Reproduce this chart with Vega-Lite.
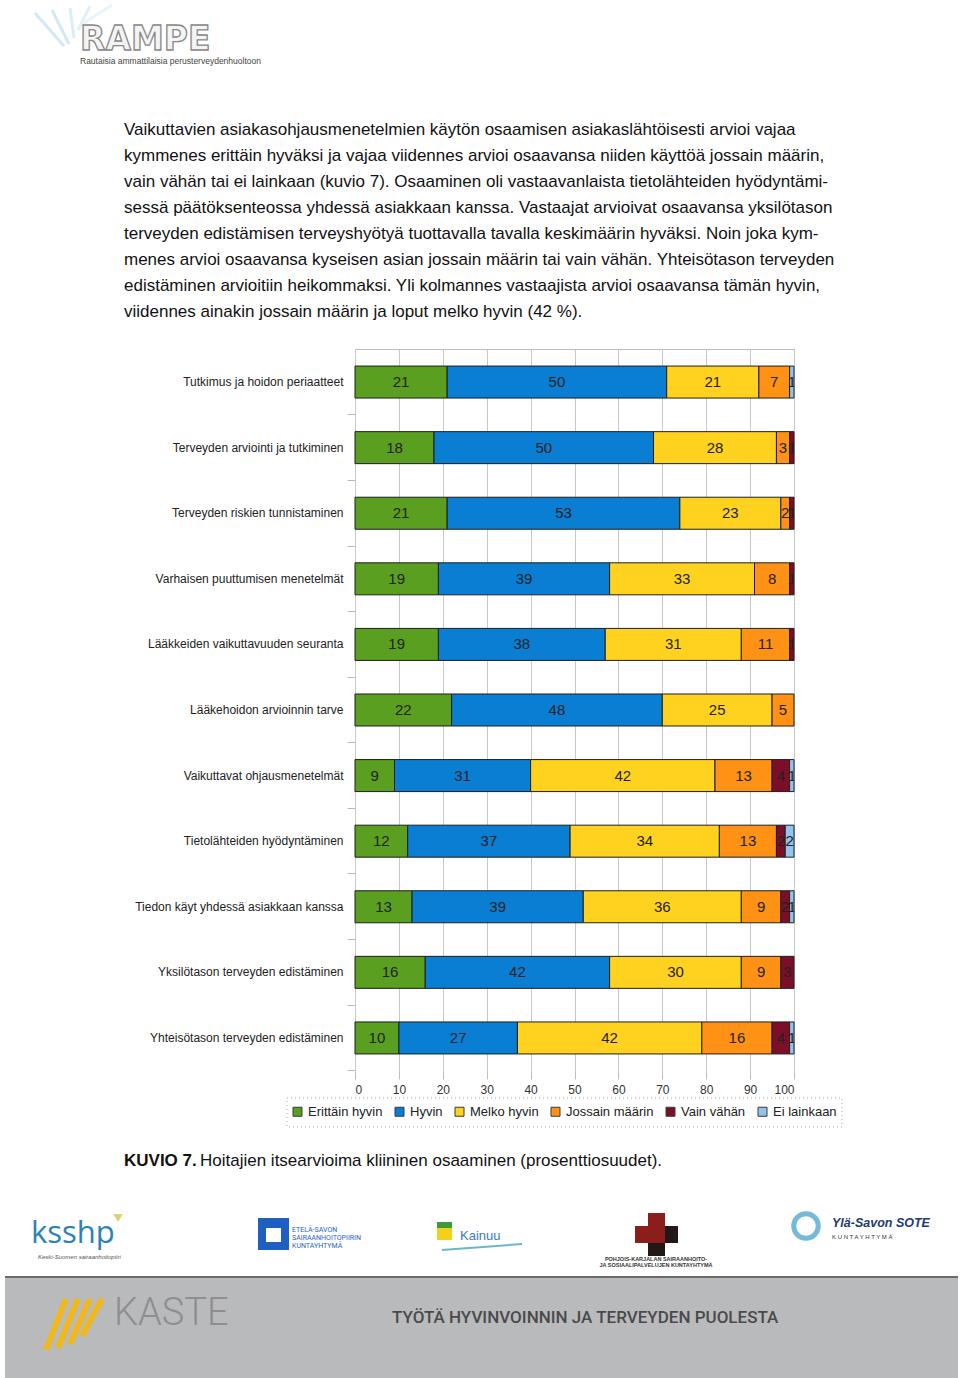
{
  "$schema": "https://vega.github.io/schema/vega-lite/v6.json",
  "width": 439,
  "height": 722,
  "autosize": {"type": "none"},
  "padding": {"left": 355, "top": 349, "right": 166, "bottom": 307},
  "background": "white",
  "config": {"view": {"stroke": null}, "font": "Liberation Sans"},
  "resolve": {"scale": {"x": "independent", "y": "independent", "color": "independent"}},
  "layer": [
    {
      "data": {"values": [
        {"line": 1, "text": "Vaikuttavien asiakasohjausmenetelmien käytön osaamisen asiakaslähtöisesti arvioi vajaa"},
        {"line": 2, "text": "kymmenes erittäin hyväksi ja vajaa viidennes arvioi osaavansa niiden käyttöä jossain määrin,"},
        {"line": 3, "text": "vain vähän tai ei lainkaan (kuvio 7). Osaaminen oli vastaavanlaista tietolähteiden hyödyntämi-"},
        {"line": 4, "text": "sessä päätöksenteossa yhdessä asiakkaan kanssa. Vastaajat arvioivat osaavansa yksilötason"},
        {"line": 5, "text": "terveyden edistämisen terveyshyötyä tuottavalla tavalla keskimäärin hyväksi. Noin joka kym-"},
        {"line": 6, "text": "menes arvioi osaavansa kyseisen asian jossain määrin tai vain vähän. Yhteisötason terveyden"},
        {"line": 7, "text": "edistäminen arvioitiin heikommaksi. Yli kolmannes vastaajista arvioi osaavansa tämän hyvin,"},
        {"line": 8, "text": "viidennes ainakin jossain määrin ja loput melko hyvin (42 %)."}
      ]},
      "mark": {"type": "text", "align": "left", "baseline": "middle", "fontSize": 17, "font": "Liberation Sans", "color": "#111"},
      "encoding": {
        "x": {"datum": 124, "type": "quantitative", "scale": {"domain": [0, 960], "range": [-355, 605], "nice": false, "zero": false}, "axis": null},
        "y": {"field": "line", "type": "ordinal", "scale": {"type": "point", "range": [-219, -37], "padding": 0}, "axis": null},
        "text": {"field": "text"}
      }
    },
    {
      "layer": [
        {"data": {"values": [{}]}, "mark": {"type": "rect", "color": "#b9babc"},
         "encoding": {"x": {"datum": 5, "type": "quantitative", "scale": {"domain": [0, 960], "range": [-355, 605], "nice": false, "zero": false}, "axis": null}, "x2": {"datum": 958},
                      "y": {"datum": 1277, "type": "quantitative", "scale": {"domain": [0, 1378], "range": [-349, 1029], "nice": false, "zero": false}, "axis": null}, "y2": {"datum": 1378}}},
        {"data": {"values": [{}]}, "mark": {"type": "rule", "color": "#6a6a6a", "strokeWidth": 2},
         "encoding": {"x": {"datum": 5, "type": "quantitative"}, "x2": {"datum": 958}, "y": {"datum": 1277, "type": "quantitative"}, "y2": {"datum": 1277}}},
        {"data": {"values": [{}]}, "mark": {"type": "rect", "fill": null, "stroke": "#aaaaaa", "strokeDash": [1, 3], "strokeWidth": 1},
         "encoding": {"x": {"datum": 287, "type": "quantitative"}, "x2": {"datum": 842}, "y": {"datum": 1098, "type": "quantitative"}, "y2": {"datum": 1127}}},

        {"data": {"values": [{}]}, "mark": {"type": "rule", "color": "#d2e8f4", "strokeWidth": 3},
         "encoding": {"x": {"datum": 35, "type": "quantitative"}, "x2": {"datum": 64}, "y": {"datum": 13, "type": "quantitative"}, "y2": {"datum": 46}}},
        {"data": {"values": [{}]}, "mark": {"type": "rule", "color": "#d2e8f4", "strokeWidth": 3},
         "encoding": {"x": {"datum": 52, "type": "quantitative"}, "x2": {"datum": 69}, "y": {"datum": 10, "type": "quantitative"}, "y2": {"datum": 44}}},
        {"data": {"values": [{}]}, "mark": {"type": "rule", "color": "#dbedf7", "strokeWidth": 3},
         "encoding": {"x": {"datum": 70, "type": "quantitative"}, "x2": {"datum": 74}, "y": {"datum": 8, "type": "quantitative"}, "y2": {"datum": 38}}},
        {"data": {"values": [{}]}, "mark": {"type": "rule", "color": "#e2f0f8", "strokeWidth": 3},
         "encoding": {"x": {"datum": 90, "type": "quantitative"}, "x2": {"datum": 78}, "y": {"datum": 6, "type": "quantitative"}, "y2": {"datum": 30}}},
        {"data": {"values": [{}]}, "mark": {"type": "rule", "color": "#e8f3fa", "strokeWidth": 3},
         "encoding": {"x": {"datum": 112, "type": "quantitative"}, "x2": {"datum": 82}, "y": {"datum": 5, "type": "quantitative"}, "y2": {"datum": 24}}},

        {"data": {"values": [{"t": "RAMPE"}]}, "mark": {"type": "text", "align": "left", "baseline": "alphabetic", "fontSize": 33, "font": "DejaVu Sans", "fontWeight": "bold", "fill": "#f4f4f4", "stroke": "#888888", "strokeWidth": 1.3},
         "encoding": {"x": {"datum": 80, "type": "quantitative"}, "y": {"datum": 50, "type": "quantitative"}, "text": {"field": "t"}}},
        {"data": {"values": [{"t": "Rautaisia ammattilaisia perusterveydenhuoltoon"}]}, "mark": {"type": "text", "align": "left", "baseline": "middle", "fontSize": 8.5, "color": "#444"},
         "encoding": {"x": {"datum": 80, "type": "quantitative"}, "y": {"datum": 61, "type": "quantitative"}, "text": {"field": "t"}}},

        {"data": {"values": [{"t": "KUVIO 7."}]}, "mark": {"type": "text", "align": "left", "baseline": "middle", "fontSize": 17, "fontWeight": "bold", "color": "#111"},
         "encoding": {"x": {"datum": 124, "type": "quantitative"}, "y": {"datum": 1161, "type": "quantitative"}, "text": {"field": "t"}}},
        {"data": {"values": [{"t": "Hoitajien itsearvioima kliininen osaaminen (prosenttiosuudet)."}]}, "mark": {"type": "text", "align": "left", "baseline": "middle", "fontSize": 17, "color": "#111"},
         "encoding": {"x": {"datum": 200, "type": "quantitative"}, "y": {"datum": 1161, "type": "quantitative"}, "text": {"field": "t"}}},

        {"data": {"values": [{"t": "ksshp"}]}, "mark": {"type": "text", "align": "left", "baseline": "middle", "fontSize": 31, "font": "Open Sans", "color": "#2b83b4"},
         "encoding": {"x": {"datum": 31, "type": "quantitative"}, "y": {"datum": 1234, "type": "quantitative"}, "text": {"field": "t"}}},
        {"data": {"values": [{}]}, "mark": {"type": "point", "shape": "triangle-down", "filled": true, "color": "#c9c238", "size": 90},
         "encoding": {"x": {"datum": 118, "type": "quantitative"}, "y": {"datum": 1218, "type": "quantitative"}}},
        {"data": {"values": [{"t": "Keski-Suomen sairaanhoitopiiri"}]}, "mark": {"type": "text", "align": "left", "baseline": "middle", "fontSize": 6, "fontStyle": "italic", "color": "#555"},
         "encoding": {"x": {"datum": 38, "type": "quantitative"}, "y": {"datum": 1257, "type": "quantitative"}, "text": {"field": "t"}}},

        {"data": {"values": [{}]}, "mark": {"type": "rect", "color": "#1f5fbf"},
         "encoding": {"x": {"datum": 258, "type": "quantitative"}, "x2": {"datum": 289}, "y": {"datum": 1218, "type": "quantitative"}, "y2": {"datum": 1250}}},
        {"data": {"values": [{}]}, "mark": {"type": "rect", "color": "#ffffff"},
         "encoding": {"x": {"datum": 266, "type": "quantitative"}, "x2": {"datum": 281}, "y": {"datum": 1228, "type": "quantitative"}, "y2": {"datum": 1242}}},
        {"data": {"values": [{"t": "ETELÄ-SAVON"}]}, "mark": {"type": "text", "align": "left", "baseline": "middle", "fontSize": 7, "font": "Roboto", "color": "#1f5fbf"},
         "encoding": {"x": {"datum": 292, "type": "quantitative"}, "y": {"datum": 1230, "type": "quantitative"}, "text": {"field": "t"}}},
        {"data": {"values": [{"t": "SAIRAANHOITOPIIRIN"}]}, "mark": {"type": "text", "align": "left", "baseline": "middle", "fontSize": 7, "font": "Roboto", "color": "#1f5fbf"},
         "encoding": {"x": {"datum": 292, "type": "quantitative"}, "y": {"datum": 1238, "type": "quantitative"}, "text": {"field": "t"}}},
        {"data": {"values": [{"t": "KUNTAYHTYMÄ"}]}, "mark": {"type": "text", "align": "left", "baseline": "middle", "fontSize": 7, "font": "Roboto", "color": "#1f5fbf"},
         "encoding": {"x": {"datum": 292, "type": "quantitative"}, "y": {"datum": 1246, "type": "quantitative"}, "text": {"field": "t"}}},

        {"data": {"values": [{}]}, "mark": {"type": "rect", "color": "#f3d11b"},
         "encoding": {"x": {"datum": 437, "type": "quantitative"}, "x2": {"datum": 452}, "y": {"datum": 1222, "type": "quantitative"}, "y2": {"datum": 1240}}},
        {"data": {"values": [{}]}, "mark": {"type": "rect", "color": "#3e9b3a"},
         "encoding": {"x": {"datum": 437, "type": "quantitative"}, "x2": {"datum": 452}, "y": {"datum": 1222, "type": "quantitative"}, "y2": {"datum": 1228}}},
        {"data": {"values": [{}]}, "mark": {"type": "rule", "color": "#6cb6c9", "strokeWidth": 2},
         "encoding": {"x": {"datum": 442, "type": "quantitative"}, "x2": {"datum": 522}, "y": {"datum": 1250, "type": "quantitative"}, "y2": {"datum": 1244}}},
        {"data": {"values": [{"t": "Kainuu"}]}, "mark": {"type": "text", "align": "left", "baseline": "middle", "fontSize": 13, "color": "#3a78c0"},
         "encoding": {"x": {"datum": 460, "type": "quantitative"}, "y": {"datum": 1236, "type": "quantitative"}, "text": {"field": "t"}}},

        {"data": {"values": [{}]}, "mark": {"type": "rect", "color": "#8b1d1d"},
         "encoding": {"x": {"datum": 648, "type": "quantitative"}, "x2": {"datum": 665}, "y": {"datum": 1213, "type": "quantitative"}, "y2": {"datum": 1256}}},
        {"data": {"values": [{}]}, "mark": {"type": "rect", "color": "#8b1d1d"},
         "encoding": {"x": {"datum": 635, "type": "quantitative"}, "x2": {"datum": 678}, "y": {"datum": 1226, "type": "quantitative"}, "y2": {"datum": 1243}}},
        {"data": {"values": [{}]}, "mark": {"type": "rect", "color": "#231815"},
         "encoding": {"x": {"datum": 648, "type": "quantitative"}, "x2": {"datum": 665}, "y": {"datum": 1243, "type": "quantitative"}, "y2": {"datum": 1256}}},
        {"data": {"values": [{}]}, "mark": {"type": "rect", "color": "#231815"},
         "encoding": {"x": {"datum": 665, "type": "quantitative"}, "x2": {"datum": 678}, "y": {"datum": 1226, "type": "quantitative"}, "y2": {"datum": 1243}}},
        {"data": {"values": [{"t": "POHJOIS-KARJALAN SAIRAANHOITO-"}]}, "mark": {"type": "text", "align": "center", "baseline": "middle", "fontSize": 5.5, "fontWeight": "bold", "color": "#333"},
         "encoding": {"x": {"datum": 656, "type": "quantitative"}, "y": {"datum": 1259, "type": "quantitative"}, "text": {"field": "t"}}},
        {"data": {"values": [{"t": "JA SOSIAALIPALVELUJEN KUNTAYHTYMÄ"}]}, "mark": {"type": "text", "align": "center", "baseline": "middle", "fontSize": 5.5, "fontWeight": "bold", "color": "#333"},
         "encoding": {"x": {"datum": 656, "type": "quantitative"}, "y": {"datum": 1265, "type": "quantitative"}, "text": {"field": "t"}}},

        {"data": {"values": [{}]}, "mark": {"type": "point", "shape": "circle", "filled": false, "stroke": "#3a9fc8", "strokeWidth": 5, "size": 600},
         "encoding": {"x": {"datum": 806, "type": "quantitative"}, "y": {"datum": 1226, "type": "quantitative"}}},
        {"data": {"values": [{"t": "Ylä-Savon SOTE"}]}, "mark": {"type": "text", "align": "left", "baseline": "middle", "fontSize": 12.5, "fontWeight": "bold", "fontStyle": "italic", "color": "#1d3b6f"},
         "encoding": {"x": {"datum": 832, "type": "quantitative"}, "y": {"datum": 1223, "type": "quantitative"}, "text": {"field": "t"}}},
        {"data": {"values": [{"t": "K U N T A Y H T Y M Ä"}]}, "mark": {"type": "text", "align": "left", "baseline": "middle", "fontSize": 6, "color": "#333"},
         "encoding": {"x": {"datum": 832, "type": "quantitative"}, "y": {"datum": 1237, "type": "quantitative"}, "text": {"field": "t"}}},

        {"data": {"values": [{}]}, "mark": {"type": "rule", "color": "#f0b81c", "strokeWidth": 6},
         "encoding": {"x": {"datum": 66, "type": "quantitative"}, "x2": {"datum": 46}, "y": {"datum": 1299, "type": "quantitative"}, "y2": {"datum": 1350}}},
        {"data": {"values": [{}]}, "mark": {"type": "rule", "color": "#f0b81c", "strokeWidth": 6},
         "encoding": {"x": {"datum": 78, "type": "quantitative"}, "x2": {"datum": 58}, "y": {"datum": 1299, "type": "quantitative"}, "y2": {"datum": 1348}}},
        {"data": {"values": [{}]}, "mark": {"type": "rule", "color": "#f0b81c", "strokeWidth": 6},
         "encoding": {"x": {"datum": 90, "type": "quantitative"}, "x2": {"datum": 70}, "y": {"datum": 1299, "type": "quantitative"}, "y2": {"datum": 1344}}},
        {"data": {"values": [{}]}, "mark": {"type": "rule", "color": "#f0b81c", "strokeWidth": 6},
         "encoding": {"x": {"datum": 102, "type": "quantitative"}, "x2": {"datum": 82}, "y": {"datum": 1299, "type": "quantitative"}, "y2": {"datum": 1336}}},
        {"data": {"values": [{"t": "KASTE"}]}, "mark": {"type": "text", "align": "left", "baseline": "middle", "fontSize": 38, "font": "Roboto", "fontWeight": 300, "color": "#8e8e90"},
         "encoding": {"x": {"datum": 114, "type": "quantitative"}, "y": {"datum": 1314, "type": "quantitative"}, "text": {"field": "t"}}},
        {"data": {"values": [{"t": "TYÖTÄ HYVINVOINNIN JA TERVEYDEN PUOLESTA"}]}, "mark": {"type": "text", "align": "left", "baseline": "middle", "fontSize": 17, "font": "Roboto", "fontWeight": 500, "color": "#4a4a4c"},
         "encoding": {"x": {"datum": 392, "type": "quantitative"}, "y": {"datum": 1318, "type": "quantitative"}, "text": {"field": "t"}}}
      ]
    },
    {
      "data": {"values": [
        {"item": "Tutkimus ja hoidon periaatteet", "level": "Erittäin hyvin", "rank": 1, "pct": 21},
        {"item": "Tutkimus ja hoidon periaatteet", "level": "Hyvin", "rank": 2, "pct": 50},
        {"item": "Tutkimus ja hoidon periaatteet", "level": "Melko hyvin", "rank": 3, "pct": 21},
        {"item": "Tutkimus ja hoidon periaatteet", "level": "Jossain määrin", "rank": 4, "pct": 7},
        {"item": "Tutkimus ja hoidon periaatteet", "level": "Ei lainkaan", "rank": 6, "pct": 1},
        {"item": "Terveyden arviointi ja tutkiminen", "level": "Erittäin hyvin", "rank": 1, "pct": 18},
        {"item": "Terveyden arviointi ja tutkiminen", "level": "Hyvin", "rank": 2, "pct": 50},
        {"item": "Terveyden arviointi ja tutkiminen", "level": "Melko hyvin", "rank": 3, "pct": 28},
        {"item": "Terveyden arviointi ja tutkiminen", "level": "Jossain määrin", "rank": 4, "pct": 3},
        {"item": "Terveyden arviointi ja tutkiminen", "level": "Vain vähän", "rank": 5, "pct": 1},
        {"item": "Terveyden riskien tunnistaminen", "level": "Erittäin hyvin", "rank": 1, "pct": 21},
        {"item": "Terveyden riskien tunnistaminen", "level": "Hyvin", "rank": 2, "pct": 53},
        {"item": "Terveyden riskien tunnistaminen", "level": "Melko hyvin", "rank": 3, "pct": 23},
        {"item": "Terveyden riskien tunnistaminen", "level": "Jossain määrin", "rank": 4, "pct": 2},
        {"item": "Terveyden riskien tunnistaminen", "level": "Vain vähän", "rank": 5, "pct": 1},
        {"item": "Varhaisen puuttumisen menetelmät", "level": "Erittäin hyvin", "rank": 1, "pct": 19},
        {"item": "Varhaisen puuttumisen menetelmät", "level": "Hyvin", "rank": 2, "pct": 39},
        {"item": "Varhaisen puuttumisen menetelmät", "level": "Melko hyvin", "rank": 3, "pct": 33},
        {"item": "Varhaisen puuttumisen menetelmät", "level": "Jossain määrin", "rank": 4, "pct": 8},
        {"item": "Varhaisen puuttumisen menetelmät", "level": "Vain vähän", "rank": 5, "pct": 1},
        {"item": "Lääkkeiden vaikuttavuuden seuranta", "level": "Erittäin hyvin", "rank": 1, "pct": 19},
        {"item": "Lääkkeiden vaikuttavuuden seuranta", "level": "Hyvin", "rank": 2, "pct": 38},
        {"item": "Lääkkeiden vaikuttavuuden seuranta", "level": "Melko hyvin", "rank": 3, "pct": 31},
        {"item": "Lääkkeiden vaikuttavuuden seuranta", "level": "Jossain määrin", "rank": 4, "pct": 11},
        {"item": "Lääkkeiden vaikuttavuuden seuranta", "level": "Vain vähän", "rank": 5, "pct": 1},
        {"item": "Lääkehoidon arvioinnin tarve", "level": "Erittäin hyvin", "rank": 1, "pct": 22},
        {"item": "Lääkehoidon arvioinnin tarve", "level": "Hyvin", "rank": 2, "pct": 48},
        {"item": "Lääkehoidon arvioinnin tarve", "level": "Melko hyvin", "rank": 3, "pct": 25},
        {"item": "Lääkehoidon arvioinnin tarve", "level": "Jossain määrin", "rank": 4, "pct": 5},
        {"item": "Vaikuttavat ohjausmenetelmät", "level": "Erittäin hyvin", "rank": 1, "pct": 9},
        {"item": "Vaikuttavat ohjausmenetelmät", "level": "Hyvin", "rank": 2, "pct": 31},
        {"item": "Vaikuttavat ohjausmenetelmät", "level": "Melko hyvin", "rank": 3, "pct": 42},
        {"item": "Vaikuttavat ohjausmenetelmät", "level": "Jossain määrin", "rank": 4, "pct": 13},
        {"item": "Vaikuttavat ohjausmenetelmät", "level": "Vain vähän", "rank": 5, "pct": 4},
        {"item": "Vaikuttavat ohjausmenetelmät", "level": "Ei lainkaan", "rank": 6, "pct": 1},
        {"item": "Tietolähteiden hyödyntäminen", "level": "Erittäin hyvin", "rank": 1, "pct": 12},
        {"item": "Tietolähteiden hyödyntäminen", "level": "Hyvin", "rank": 2, "pct": 37},
        {"item": "Tietolähteiden hyödyntäminen", "level": "Melko hyvin", "rank": 3, "pct": 34},
        {"item": "Tietolähteiden hyödyntäminen", "level": "Jossain määrin", "rank": 4, "pct": 13},
        {"item": "Tietolähteiden hyödyntäminen", "level": "Vain vähän", "rank": 5, "pct": 2},
        {"item": "Tietolähteiden hyödyntäminen", "level": "Ei lainkaan", "rank": 6, "pct": 2},
        {"item": "Tiedon käyt yhdessä asiakkaan kanssa", "level": "Erittäin hyvin", "rank": 1, "pct": 13},
        {"item": "Tiedon käyt yhdessä asiakkaan kanssa", "level": "Hyvin", "rank": 2, "pct": 39},
        {"item": "Tiedon käyt yhdessä asiakkaan kanssa", "level": "Melko hyvin", "rank": 3, "pct": 36},
        {"item": "Tiedon käyt yhdessä asiakkaan kanssa", "level": "Jossain määrin", "rank": 4, "pct": 9},
        {"item": "Tiedon käyt yhdessä asiakkaan kanssa", "level": "Vain vähän", "rank": 5, "pct": 2},
        {"item": "Tiedon käyt yhdessä asiakkaan kanssa", "level": "Ei lainkaan", "rank": 6, "pct": 1},
        {"item": "Yksilötason terveyden edistäminen", "level": "Erittäin hyvin", "rank": 1, "pct": 16},
        {"item": "Yksilötason terveyden edistäminen", "level": "Hyvin", "rank": 2, "pct": 42},
        {"item": "Yksilötason terveyden edistäminen", "level": "Melko hyvin", "rank": 3, "pct": 30},
        {"item": "Yksilötason terveyden edistäminen", "level": "Jossain määrin", "rank": 4, "pct": 9},
        {"item": "Yksilötason terveyden edistäminen", "level": "Vain vähän", "rank": 5, "pct": 3},
        {"item": "Yhteisötason terveyden edistäminen", "level": "Erittäin hyvin", "rank": 1, "pct": 10},
        {"item": "Yhteisötason terveyden edistäminen", "level": "Hyvin", "rank": 2, "pct": 27},
        {"item": "Yhteisötason terveyden edistäminen", "level": "Melko hyvin", "rank": 3, "pct": 42},
        {"item": "Yhteisötason terveyden edistäminen", "level": "Jossain määrin", "rank": 4, "pct": 16},
        {"item": "Yhteisötason terveyden edistäminen", "level": "Vain vähän", "rank": 5, "pct": 4},
        {"item": "Yhteisötason terveyden edistäminen", "level": "Ei lainkaan", "rank": 6, "pct": 1}
      ]},
      "resolve": {"axis": {"x": "independent", "y": "independent"}},
      "layer": [
        {
          "mark": {"type": "bar", "stroke": "#1e1e1e", "strokeWidth": 1},
          "encoding": {
            "x": {"field": "pct", "type": "quantitative", "stack": "zero",
                  "scale": {"domain": [0, 100], "nice": false},
                  "axis": {"orient": "bottom", "values": [0, 10, 20, 30, 40, 50, 60, 70, 80, 90, 100], "title": null, "domain": false,
                           "tickSize": 8, "tickColor": "#bdbdbd", "grid": true, "gridColor": "#c8c8c8",
                           "labelFontSize": 12, "labelColor": "#333", "labelPadding": 5, "labelFont": "Liberation Sans"}},
            "y": {"field": "item", "type": "nominal", "sort": null,
                  "scale": {"paddingInner": 0.512, "paddingOuter": 0.26},
                  "axis": {"orient": "left", "title": null, "ticks": false, "domain": false, "grid": false, "labelPadding": 12,
                           "labelFontSize": 12, "labelColor": "#222", "labelLimit": 320, "labelFont": "Liberation Sans"}},
            "order": {"field": "rank", "type": "quantitative", "sort": "ascending"},
            "color": {"field": "level", "type": "nominal",
                      "sort": ["Erittäin hyvin", "Hyvin", "Melko hyvin", "Jossain määrin", "Vain vähän", "Ei lainkaan"],
                      "scale": {"domain": ["Erittäin hyvin", "Hyvin", "Melko hyvin", "Jossain määrin", "Vain vähän", "Ei lainkaan"],
                                "range": ["#5a9f1f", "#0a7ed2", "#ffd21f", "#ff9214", "#7c0f27", "#92c5ee"]},
                      "legend": {"title": null, "orient": "none", "legendX": -64, "legendY": 756, "direction": "horizontal",
                                 "symbolType": "square", "symbolSize": 81, "symbolStrokeColor": "#3a3a3a", "symbolStrokeWidth": 1,
                                 "labelFontSize": 13, "labelColor": "#222", "labelOffset": 4, "columnPadding": 10, "padding": 0,
                                 "labelFont": "Liberation Sans"}}
          }
        },
        {
          "mark": {"type": "text", "align": "center", "baseline": "middle", "fontSize": 15, "font": "Liberation Sans", "color": "#222222", "clip": true},
          "encoding": {
            "x": {"field": "pct", "type": "quantitative", "stack": "zero", "bandPosition": 0.5,
                  "axis": {"orient": "top", "labels": false, "ticks": false, "grid": false, "domain": true, "domainColor": "#bbbbbb", "title": null}},
            "y": {"field": "item", "type": "nominal", "sort": null,
                  "axis": {"orient": "left", "labels": false, "ticks": true, "tickSize": 8, "tickColor": "#bbbbbb", "bandPosition": 1.525, "domain": false, "grid": false, "title": null}},
            "detail": {"field": "level", "type": "nominal"},
            "order": {"field": "rank", "type": "quantitative", "sort": "ascending"},
            "text": {"field": "pct", "type": "quantitative"}
          }
        }
      ]
    }
  ]
}
